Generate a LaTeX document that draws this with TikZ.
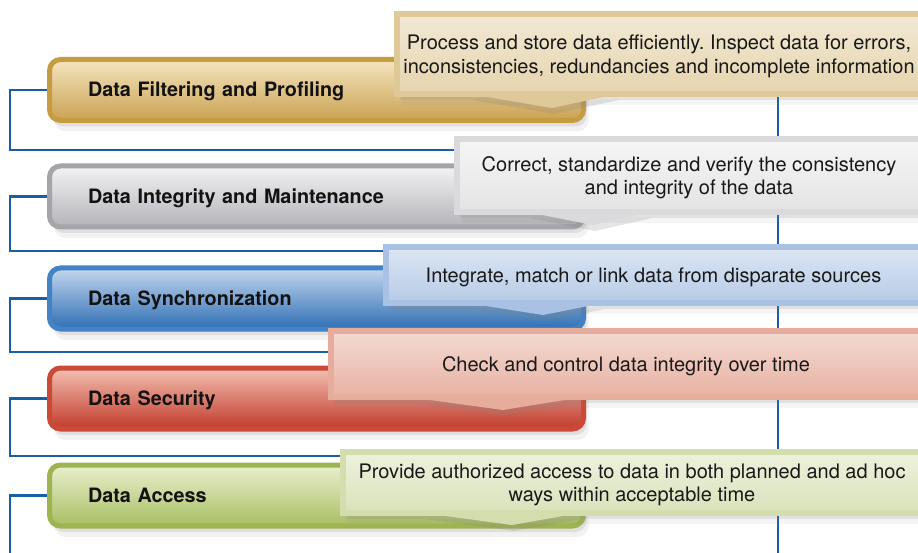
\documentclass[tikz,border=0pt]{standalone}
\usepackage{fontspec}
\setmainfont{TeX Gyre Heros}
\usetikzlibrary{shadows,calc}
\frenchspacing

\definecolor{linkblue}{HTML}{1A5FA6}
\definecolor{goldrim}{HTML}{C69C40}
\definecolor{goldtop}{HTML}{F4E5C0}
\definecolor{goldbot}{HTML}{CBA252}
\definecolor{grayrim}{HTML}{A4A4A9}
\definecolor{graytop}{HTML}{F3F3F4}
\definecolor{graybot}{HTML}{B3B3B8}
\definecolor{bluerim}{HTML}{4382C4}
\definecolor{bluetop}{HTML}{C4D7EE}
\definecolor{bluebot}{HTML}{2F6FB4}
\definecolor{redrim}{HTML}{CB4A37}
\definecolor{redtop}{HTML}{F3C0B2}
\definecolor{redbot}{HTML}{C13A2A}
\definecolor{greenrim}{HTML}{9DB450}
\definecolor{greentop}{HTML}{E9EFCE}
\definecolor{greenbot}{HTML}{A8BE62}
% call-out colours
\definecolor{goldnote}{HTML}{DFC998}
\definecolor{graynote}{HTML}{DADADC}
\definecolor{bluenote}{HTML}{A9C1E2}
\definecolor{rednote}{HTML}{E6AD9D}
\definecolor{greennote}{HTML}{D3DDAE}

\begin{document}
\begin{tikzpicture}[x=1pt,y=-1pt,
  stage/.style = {rounded corners=11pt, line width=5pt, minimum width=534pt, minimum height=61pt,
    text width=457pt, align=left, inner xsep=38.5pt, inner ysep=0pt, text height=14pt, text depth=0pt,
    font=\fontsize{19.8}{23}\selectfont\bfseries, text=black!93,
    drop shadow={opacity=.16,shadow xshift=3pt,shadow yshift=-6pt},
    drop shadow={opacity=.10,shadow xshift=5pt,shadow yshift=-11pt}},
  note/.style = {line width=6pt, inner sep=3pt, align=center,
    font=\fontsize{20}{23.5}\selectfont, text=black!90,
    drop shadow={opacity=.16,shadow xshift=3pt,shadow yshift=-6pt},
    drop shadow={opacity=.08,shadow xshift=5pt,shadow yshift=-11pt}},
  oneline/.style = {text height=15pt, text depth=0pt},
  twoline/.style = {text depth=-1.5pt},
  tip/.style = {drop shadow={opacity=.2,shadow xshift=2pt,shadow yshift=-6pt}},
  link/.style = {draw=linkblue, line width=2.5pt}]
\useasboundingbox[fill=white] (0,0) rectangle (918,553);

% joints on the spine
\coordinate (j1) at (778,150);
\coordinate (j2) at (778,251);
\coordinate (j3) at (778,352);
\coordinate (j4) at (778,456);
\coordinate (s0) at (778,97);
\coordinate (s1) at (778,553);

\draw[link] (s0) -- (s1);

% left column
\node[stage, draw=goldrim, top color=goldtop, bottom color=goldbot] (filter) at (316.5,90) {Data Filtering and Profiling};
\node[stage, draw=grayrim, top color=graytop, bottom color=graybot] (integrity) at (316.5,196.5) {Data Integrity and Maintenance};
\node[stage, draw=bluerim, top color=bluetop, bottom color=bluebot] (sync) at (316.5,298.5) {Data Synchronization};
\node[stage, draw=redrim, top color=redtop, bottom color=redbot] (security) at (316.5,398.5) {Data Security};
\node[stage, draw=greenrim, top color=greentop, bottom color=greenbot] (access) at (316.5,495.5) {Data Access};

\draw[link] (filter.west) -- ++(-37,0) |- (j1);
\draw[link] (integrity.west) -- ++(-37,0) |- (j2);
\draw[link] (sync.west) -- ++(-37,0) |- (j3);
\draw[link] (security.west) -- ++(-37,0) |- (j4);
\draw[link] (access.west) -- ++(-37,0) -- ++(0,60);

% call-outs
\coordinate (t1) at (552,108);
\coordinate (t2) at (593,225);
\coordinate (t3) at (543,315);
\coordinate (t4) at (503,410);
\coordinate (t5) at (512,525);

\node[note, twoline, draw=goldnote, top color=white!60!goldnote, bottom color=white!20!goldnote,
  minimum width=524pt, minimum height=80pt] (filterinfo) at (659,54)
  {Process and store data efficiently. Inspect data for errors,\\inconsistencies, redundancies and incomplete information};
\fill[goldnote, tip] (t1) -- ($(t1 |- filterinfo.south)+(-82,-3)$) -- ($(t1 |- filterinfo.south)+(65,-3)$) -- cycle;

\node[note, twoline, draw=graynote, top color=white!75!graynote, bottom color=white!25!graynote,
  minimum width=464pt, minimum height=73pt] (integrityinfo) at (689,175.5)
  {Correct, standardize and verify the consistency\\and integrity of the data};
\fill[graynote, tip] (t2) -- ($(t2 |- integrityinfo.south)+(-66,-3)$) -- ($(t2 |- integrityinfo.south)+(57,-3)$) -- cycle;

\node[note, oneline, draw=bluenote, top color=white!60!bluenote, bottom color=white!15!bluenote,
  minimum width=535pt, minimum height=56pt] (syncinfo) at (653.5,275)
  {Integrate, match or link data from disparate sources};
\fill[bluenote, tip] (t3) -- ($(t3 |- syncinfo.south)+(-76,-3)$) -- ($(t3 |- syncinfo.south)+(60,-3)$) -- cycle;

\node[note, oneline, draw=rednote, top color=white!55!rednote, bottom color=white!5!rednote,
  minimum width=590pt, minimum height=66pt] (securityinfo) at (626,364)
  {Check and control data integrity over time};
\fill[rednote, tip] (t4) -- ($(t4 |- securityinfo.south)+(-95,-3)$) -- ($(t4 |- securityinfo.south)+(80,-3)$) -- cycle;

\node[note, twoline, draw=greennote, top color=white!60!greennote, bottom color=white!15!greennote,
  minimum width=578pt, minimum height=61pt] (accessinfo) at (632,482.5)
  {Provide authorized access to data in both planned and ad hoc\\ways within acceptable time};
\fill[greennote, tip] (t5) -- ($(t5 |- accessinfo.south)+(-89,-3)$) -- ($(t5 |- accessinfo.south)+(68,-3)$) -- cycle;
\end{tikzpicture}
\end{document}
